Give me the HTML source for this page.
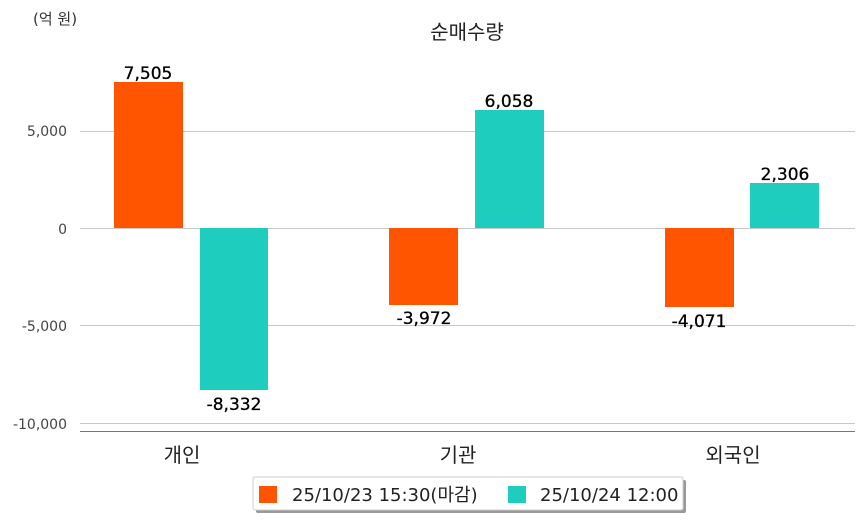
<!DOCTYPE html>
<html><head><meta charset="utf-8"><style>
body{margin:0;background:#fff}
svg text{font-family:"DejaVu Sans","Noto Sans CJK KR",sans-serif}
</style></head><body>
<svg width="863" height="520" xmlns="http://www.w3.org/2000/svg">
<rect width="863" height="520" fill="#fff"/>
<text x="33" y="24" font-size="15" fill="#333" font-family="Liberation Sans,Noto Sans CJK KR,sans-serif">(억 원)</text>
<text x="467" y="39" font-size="20" fill="#222" text-anchor="middle" font-family="Liberation Sans,Noto Sans CJK KR,sans-serif">순매수량</text>
<g stroke="#c8c8c8" stroke-width="1">
<line x1="80" y1="131.5" x2="855" y2="131.5"/>
<line x1="80" y1="228.5" x2="855" y2="228.5"/>
<line x1="80" y1="325.5" x2="855" y2="325.5"/>
<line x1="80" y1="423.5" x2="855" y2="423.5"/>
</g>
<line x1="80" y1="431.5" x2="855" y2="431.5" stroke="#777" stroke-width="1"/>
<g font-size="14" fill="#444" text-anchor="end">
<text x="67" y="136">5,000</text>
<text x="67" y="234">0</text>
<text x="67" y="331">-5,000</text>
<text x="67" y="429">-10,000</text>
</g>
<rect x="114" y="82" width="69" height="146" fill="#ff5400"/>
<rect x="200" y="228" width="68" height="162" fill="#1ecdbd"/>
<rect x="389" y="228" width="69" height="77" fill="#ff5400"/>
<rect x="475" y="110" width="69" height="118" fill="#1ecdbd"/>
<rect x="665" y="228" width="69" height="79" fill="#ff5400"/>
<rect x="750" y="183" width="69" height="45" fill="#1ecdbd"/>
<g font-size="17" fill="#000" text-anchor="middle" stroke="#000" stroke-width="0.3">
<text x="148" y="79">7,505</text>
<text x="234" y="410">-8,332</text>
<text x="424" y="324">-3,972</text>
<text x="509" y="107">6,058</text>
<text x="699" y="327">-4,071</text>
<text x="785" y="180">2,306</text>
</g>
<g font-size="20" fill="#222" text-anchor="middle" font-family="Liberation Sans,Noto Sans CJK KR,sans-serif">
<text x="182" y="462">개인</text>
<text x="458" y="462">기관</text>
<text x="733" y="462">외국인</text>
</g>
<rect x="256" y="480" width="430" height="33" rx="2" fill="#999"/>
<rect x="253" y="477" width="430" height="33" rx="2" fill="#fff" stroke="#ccc"/>
<rect x="259" y="486" width="18" height="17" fill="#ff5400"/>
<rect x="508" y="486" width="18" height="17" fill="#1ecdbd"/>
<g font-size="18" fill="#222" font-family="Liberation Sans,Noto Sans CJK KR,sans-serif">
<text x="292" y="501">25/10/23 15:30(마감)</text>
<text x="540" y="501">25/10/24 12:00</text>
</g>
</svg>
</body></html>
